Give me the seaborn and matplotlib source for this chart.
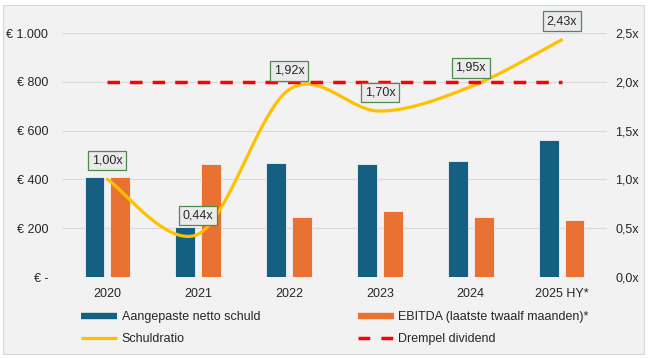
import numpy as np
import pandas as pd
import matplotlib
matplotlib.use('Agg')
import matplotlib.pyplot as plt
import seaborn as sns
from matplotlib.lines import Line2D
from matplotlib.patches import Rectangle

# ---- data ----
years = ['2020', '2021', '2022', '2023', '2024', '2025 HY*']
netto_schuld = [408, 206, 468, 463, 475, 561]
ebitda = [408, 463, 245, 272, 246, 232]
schuldratio = [1.00, 0.44, 1.92, 1.70, 1.95, 2.43]
ratio_labels = ['1,00x', '0,44x', '1,92x', '1,70x', '1,95x', '2,43x']
drempel = [2.0, 2.0, 2.0, 2.0, 2.0, 2.0]
left_ticks = [0, 200, 400, 600, 800, 1000]
left_ticklabels = ['€ -', '€ 200', '€ 400', '€ 600', '€ 800', '€ 1.000']
right_ticks = [0.0, 0.5, 1.0, 1.5, 2.0, 2.5]
right_ticklabels = ['0,0x', '0,5x', '1,0x', '1,5x', '2,0x', '2,5x']
series_names = ['Aangepaste netto schuld', 'EBITDA (laatste twaalf maanden)*']
line_names = ['Schuldratio', 'Drempel dividend']

BLUE = '#156082'
ORANGE = '#E97132'
YELLOW = '#FFC000'
RED = '#FF0000'
TXT = '#262626'
GRID = '#D9D9D9'

sns.set_style('white')
plt.rcParams['font.family'] = ['Liberation Sans', 'DejaVu Sans']
plt.rcParams['font.size'] = 9


def smooth_curve(xs, ys, n=40):
    """Excel-style smoothed line: cubic Bezier segments through the points."""
    P = np.column_stack([xs, ys]).astype(float)
    out = []
    for i in range(len(P) - 1):
        p_prev = P[i - 1] if i > 0 else P[i]
        p_next = P[i + 2] if i + 2 < len(P) else P[i + 1]
        c1 = P[i] + (P[i + 1] - p_prev) / 6.0
        c2 = P[i + 1] - (p_next - P[i]) / 6.0
        t = np.linspace(0, 1, n)[:, None]
        seg = ((1 - t) ** 3) * P[i] + 3 * ((1 - t) ** 2) * t * c1 \
            + 3 * (1 - t) * t ** 2 * c2 + t ** 3 * P[i + 1]
        out.append(seg if i == 0 else seg[1:])
    return np.vstack(out)


df = pd.DataFrame({
    'jaar': years * 2,
    'waarde': netto_schuld + ebitda,
    'reeks': [series_names[0]] * len(years) + [series_names[1]] * len(years),
})

fig = plt.figure(figsize=(6.48, 3.58), dpi=100, facecolor='white')
fig.patches.append(Rectangle((3 / 648, 1 - 354 / 358), 641 / 648, 349 / 358,
                             transform=fig.transFigure, facecolor='#F2F2F2',
                             edgecolor=GRID, linewidth=0.8, zorder=-10))

ax = fig.add_axes([62 / 648, 1 - 277 / 358, 545 / 648, 244 / 358])
ax.patch.set_alpha(0)

sns.barplot(data=df, x='jaar', y='waarde', hue='reeks', hue_order=series_names,
            palette=[BLUE, ORANGE], saturation=1, width=0.57, gap=0.23, ax=ax,
            legend=False, edgecolor='#F2F2F2', linewidth=0.6)

ax.set_ylim(0, 1000)
ax.set_xlim(-0.5, 5.5)
ax.set_yticks(left_ticks)
ax.set_yticklabels(left_ticklabels)
ax.set_xlabel('')
ax.set_ylabel('')
ax.set_axisbelow(True)
ax.yaxis.grid(True, color=GRID, linewidth=0.8)
ax.xaxis.grid(False)
for s in ax.spines.values():
    s.set_visible(False)
ax.tick_params(axis='y', length=0, pad=10, labelsize=9, labelcolor=TXT)
ax.tick_params(axis='x', length=0, pad=8, labelsize=9, labelcolor=TXT)

ax2 = ax.twinx()
xs = np.arange(len(years))
curve = smooth_curve(xs, schuldratio)
sns.lineplot(x=curve[:, 0], y=curve[:, 1], sort=False, estimator=None,
             color=YELLOW, linewidth=2.3, ax=ax2)
sns.lineplot(x=xs, y=drempel, color=RED, linewidth=2.5, ax=ax2,
             dashes=False)
ax2.lines[-1].set_dashes((3.6, 2.9))
ax2.lines[-1].set_dash_capstyle('butt')

ax2.set_ylim(0, 2.5)
ax2.set_xlim(-0.5, 5.5)
ax2.set_yticks(right_ticks)
ax2.set_yticklabels(right_ticklabels)
ax2.set_ylabel('')
ax2.set_xlabel('')
for s in ax2.spines.values():
    s.set_visible(False)
ax2.tick_params(axis='y', length=0, pad=6, labelsize=9, labelcolor=TXT)
ax2.grid(False)

for i, (v, lab) in enumerate(zip(schuldratio, ratio_labels)):
    ax2.annotate(lab, (i, v), xytext=(0, 13.5), textcoords='offset points',
                 ha='center', va='center', fontsize=9, color=TXT,
                 annotation_clip=False,
                 bbox=dict(boxstyle='square,pad=0.3', fc='#EBEBEB',
                           ec='#4E8A4E', lw=0.9))

handles = [
    Line2D([0], [0], color=BLUE, linewidth=4.6, solid_capstyle='butt'),
    Line2D([0], [0], color=YELLOW, linewidth=2.3, solid_capstyle='butt'),
    Line2D([0], [0], color=ORANGE, linewidth=4.6, solid_capstyle='butt'),
    Line2D([0], [0], color=RED, linewidth=2.5, dashes=(3.4, 3.2),
           dash_capstyle='butt'),
]
labels = [series_names[0], line_names[0], series_names[1], line_names[1]]
fig.legend(handles, labels, ncol=2, loc='upper left',
           bbox_to_anchor=(81 / 648, 1 - 311 / 358), frameon=False,
           borderpad=0, borderaxespad=0, handlelength=2.9, handletextpad=0.35,
           labelspacing=0.82, columnspacing=7.8, fontsize=9,
           labelcolor=TXT)

fig.savefig('out.png', dpi=100, facecolor='white')
